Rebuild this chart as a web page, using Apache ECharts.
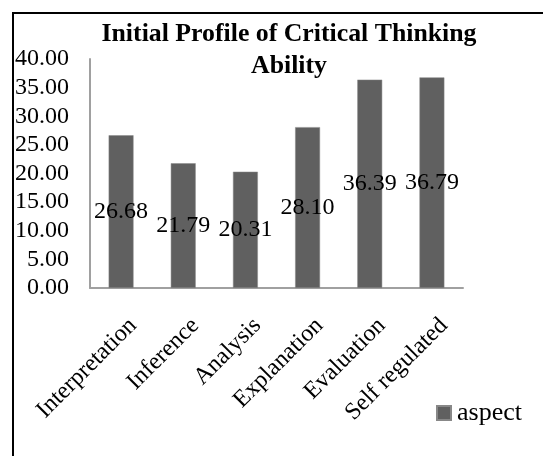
<!DOCTYPE html>
<html>
<head>
<meta charset="utf-8">
<script src="https://cdn.jsdelivr.net/npm/echarts@6/dist/echarts.min.js"></script>
<style>
html,body{margin:0;padding:0;background:#fff;}
#chart{width:543px;height:456px;}
</style>
</head>
<body>
<div id="chart"></div>
<script>
const categories = ['Interpretation', 'Inference', 'Analysis', 'Explanation', 'Evaluation', 'Self regulated'];
const aspectValues = [26.68, 21.79, 20.31, 28.10, 36.39, 36.79];
const seriesName = 'aspect';
const titleText = 'Initial Profile of Critical Thinking\nAbility';

const FONT = '"Liberation Serif", "Times New Roman", serif';
const chart = echarts.init(document.getElementById('chart'), null, {renderer: 'canvas'});
chart.setOption({
  backgroundColor: '#fff',
  animation: false,
  graphic: [{
    type: 'rect',
    shape: {x: 13, y: 13, width: 700, height: 600},
    style: {fill: 'none', stroke: '#000', lineWidth: 2},
    silent: true
  }],
  title: {
    text: titleText,
    left: 284,
    textAlign: 'center',
    top: 13,
    textStyle: {fontFamily: FONT, fontWeight: 'bold', fontSize: 25.8, color: '#000', lineHeight: 32}
  },
  legend: {
    data: [seriesName],
    left: 431,
    top: 395,
    itemWidth: 14,
    itemHeight: 14,
    itemGap: 5,
    icon: 'rect',
    textStyle: {fontFamily: FONT, fontSize: 26, color: '#000', padding: [0,0,0,1]}
  },
  grid: {left: 90, right: 80, top: 59, bottom: 168, containLabel: false},
  xAxis: {
    type: 'category',
    data: categories,
    axisLine: {lineStyle: {color: '#a0a0a0', width: 2}},
    axisTick: {show: false},
    axisLabel: {rotate: 45, interval: 0, margin: 29, verticalAlign: 'top', padding: [0, -5, 0, 0],
      fontFamily: FONT, fontSize: 24, color: '#000'}
  },
  yAxis: {
    type: 'value',
    min: 0, max: 40, interval: 5,
    splitLine: {show: false},
    axisLine: {show: true, lineStyle: {color: '#a0a0a0', width: 2}},
    axisTick: {show: false},
    axisLabel: {margin: 21, fontFamily: FONT, fontSize: 24, color: '#000',
      formatter: v => v.toFixed(2)}
  },
  series: [{
    name: seriesName,
    type: 'bar',
    data: aspectValues,
    barWidth: '40%',
    itemStyle: {color: '#606060', borderColor: '#888', borderWidth: 0.5},
    label: {show: true, position: 'inside', fontFamily: FONT, fontSize: 24, color: '#000',
      formatter: p => p.value.toFixed(2)}
  }]
});
</script>
</body>
</html>
